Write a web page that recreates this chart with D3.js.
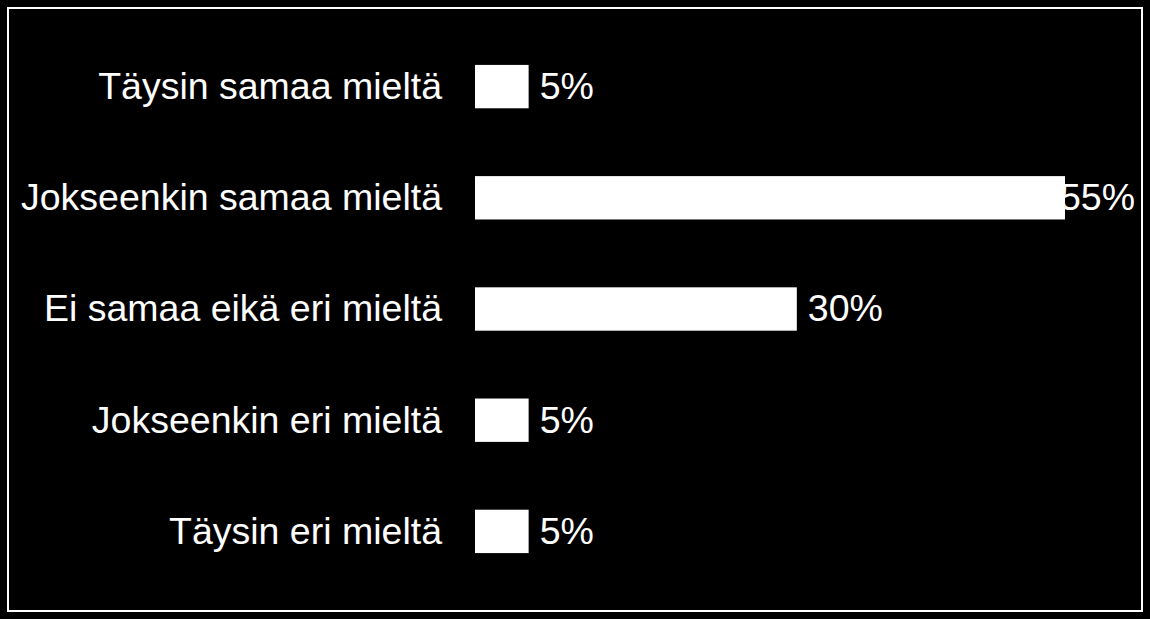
<html>
  <head>
    <script src="https://cdnjs.cloudflare.com/ajax/libs/d3/7.8.5/d3.min.js"></script>
    <meta charset="UTF-8">
    <title>Mielipiteet</title>
    <style>
      body {
        margin: 0;
        background-color: #000;
        font-family: 'Liberation Sans', Arial, sans-serif;
      }
      .label {
        fill: #fff;
        font-size: 37.5px;
      }
    </style>
  </head>
  <body>
    <svg id="chart"></svg>
    <script>
      const categories = [
        'Täysin samaa mieltä',
        'Jokseenkin samaa mieltä',
        'Ei samaa eikä eri mieltä',
        'Jokseenkin eri mieltä',
        'Täysin eri mieltä'
      ]
      const values = [5, 55, 30, 5, 5]

      const width = 1150
      const height = 619

      const svg = d3.select('#chart')
        .attr('width', width)
        .attr('height', height)

      // frame
      svg.append('rect')
        .attr('x', 8)
        .attr('y', 8)
        .attr('width', 1134)
        .attr('height', 603)
        .attr('fill', 'none')
        .attr('stroke', '#fff')
        .attr('stroke-width', 2)

      const x = d3.scaleLinear()
        .domain([0, 55])
        .range([475, 1065])

      const y = d3.scaleBand()
        .domain(categories)
        .range([31, 587])
        .paddingInner(0.61)
        .paddingOuter(0.305)

      const rows = categories.map((c, i) => ({ name: c, value: values[i] }))

      // category labels
      svg.selectAll('.cat')
        .data(rows)
        .enter().append('text')
        .attr('class', 'label cat')
        .attr('x', 442)
        .attr('y', d => y(d.name) + y.bandwidth() / 2)
        .attr('dy', '0.33em')
        .attr('text-anchor', 'end')
        .text(d => d.name)

      // value labels (drawn before bars so the bar covers an overflowing label)
      svg.selectAll('.val')
        .data(rows)
        .enter().append('text')
        .attr('class', 'label val')
        .attr('y', d => y(d.name) + y.bandwidth() / 2)
        .attr('dy', '0.33em')
        .text(d => d.value + '%')
        .attr('x', function (d) {
          const w = this.getComputedTextLength()
          return Math.min(x(d.value) + 11, 1135 - w)
        })

      svg.selectAll('.bar')
        .data(rows)
        .enter().append('rect')
        .attr('class', 'bar')
        .attr('x', x(0))
        .attr('y', d => y(d.name))
        .attr('width', d => x(d.value) - x(0))
        .attr('height', y.bandwidth())
        .attr('fill', '#fff')
    </script>
  </body>
</html>
